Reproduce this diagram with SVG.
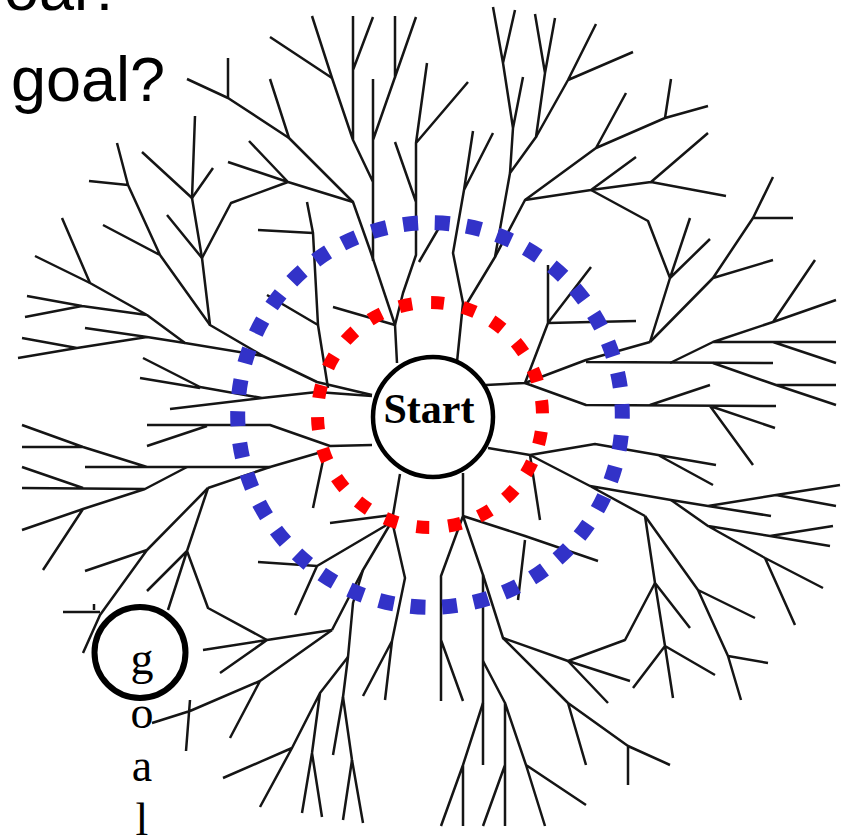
<svg xmlns="http://www.w3.org/2000/svg" width="846" height="837" viewBox="0 0 846 837">
<style>
.t{fill:none;stroke:#151515;stroke-width:2.5;stroke-linejoin:round;stroke-linecap:butt}
.ring{fill:none;stroke-linecap:butt}
.red{stroke:#ff0000;stroke-width:13;stroke-dasharray:13 19.13;stroke-dashoffset:15.46}
.blue{stroke:#3232c8;stroke-width:15;stroke-dasharray:15 16.795;stroke-dashoffset:11.43}
.node{fill:#fff;stroke:#000}
.ser{font-family:"Liberation Serif","Times New Roman",serif;fill:#000}
.sans{font-family:"Liberation Sans",Arial,sans-serif;fill:#000}
</style>
<rect width="846" height="837" fill="#fff"/>
<g id="tree" class="t">
<path d="M187,79 L228,98 L289,138 L353,202 L370,250 L395,325 L397,363"/>
<path d="M228,58 L228,98 M270,79 L289,138 M270,37 L332,78"/>
<path d="M312,16 L332,78 L353,140 L373,182 M353,16 L353,140 M373,17 L353,70 M373,79 L373,261 M395,16 L395,78 M416,17 L373,140"/>
<path d="M249,141 L288,182 M228,162 L288,182 L353,202 M288,182 L231,203 L202,258"/>
<path d="M195,116 L192,198 L202,258 L210,325 L263,356 L317,382 L372,395"/>
<path d="M142,152 L192,198 M213,168 L192,198 M167,215 L202,258"/>
<path d="M117,143 L128,185 L160,255 L210,325 M89,181 L128,185 M103,225 L160,255 M62,218 L90,283"/>
<path d="M35,256 L90,283 L147,315 L185,343 L263,356 M27,296 L82,306 L147,315 M25,317 L82,306"/>
<path d="M85,328 L147,337 L185,343 M22,338 L77,348 M18,358 L77,348 L147,337"/>
<path d="M307,202 L313,233 L318,325 L328,388 M258,230 L313,233 M267,295 L318,325 M333,307 L395,325"/>
<path d="M427,63 L416,143 L416,255 L403,293 L395,325 M468,82 L416,143 M395,142 L416,202 M440,226 L419,262"/>
<path d="M473,131 L464,190 L453,253 L463,303 L457,362 M493,133 L464,190"/>
<path d="M493,7 L503,63 L513,128 L510,173 L495,257 L466,305 M515,10 L503,63 M535,14 L545,73 L536,137 L510,173 M555,18 L545,73 M523,77 L513,128"/>
<path d="M596,24 L568,80 L536,137 M633,52 L568,80"/>
<path d="M708,106 L665,118 L596,148 L525,200 L495,257 M671,79 L665,118 M626,93 L596,148"/>
<path d="M525,200 L591,190 L651,182 L726,196 M636,157 L591,190 M708,133 L651,182"/>
<path d="M591,190 L648,221 L670,278 L650,342 M690,218 L670,278 M710,239 L670,278"/>
<path d="M773,177 L753,218 L713,278 L650,342 M753,218 L793,218 M713,278 L773,260"/>
<path d="M143,358 L200,387 L262,398 L317,392 L372,396 M140,378 L200,388 M170,409 L262,398"/>
<path d="M147,425 L270,425 L330,446 L372,445 M147,446 L207,426"/>
<path d="M22,425 L83,447 L147,467 M22,447 L83,447 M85,467 L270,467 L325,451"/>
<path d="M22,467 L83,488 M22,488 L145,489 L187,467 M22,530 L83,509 L145,489 M83,509 L43,570"/>
<path d="M208,488 L270,467 M208,488 L147,550 L100,615 L83,653 M147,550 L85,571"/>
<path d="M208,488 L187,551 L168,610 M187,551 L147,591 M187,551 L208,608 L267,640"/>
<path d="M63,612 L100,612 M94,604 L94,610"/>
<path d="M203,650 L267,640 L332,630 M220,673 L267,640"/>
<path d="M152,723 L190,711 L260,681 L332,630 M190,700 L186,751 M260,681 L230,738"/>
<path d="M332,630 L363,570 L392,521 L400,474 M330,523 L392,515 M313,508 L325,451"/>
<path d="M258,562 L317,566 L390,523 M317,566 L295,615"/>
<path d="M392,521 L405,578 L392,641 L385,700 M392,641 L363,696"/>
<path d="M363,570 L353,603 L348,657 L343,697 L352,760 L363,823"/>
<path d="M348,657 L320,693 L292,748 L260,807 M320,693 L312,753 L302,813 M312,753 L322,817 M292,748 L223,778 M343,697 L333,755 M352,760 L343,820"/>
<path d="M463,473 L463,516 L441,576 L441,701 M441,640 L463,701"/>
<path d="M463,516 L483,575 L483,765 M463,516 L525,536 L598,561 M525,540 L518,600"/>
<path d="M483,575 L503,638 L568,661 L630,681 M568,661 L625,640 L655,583"/>
<path d="M503,638 L568,703 L628,746 L670,765 M568,661 L608,703 M568,703 L586,765 M628,746 L628,785"/>
<path d="M483,661 L505,703 L505,826 M483,703 L463,765 L441,826 M463,765 L463,826 M505,765 L483,826 M505,703 L526,765 L545,826 M526,765 L586,805"/>
<path d="M488,448 L530,455 L595,444 L658,455 L716,465 M658,455 L713,485"/>
<path d="M530,455 L590,486 L645,516 M590,486 L671,500 L708,506 L771,516 M708,506 L776,495 L840,485 M776,495 L836,506"/>
<path d="M671,500 L708,526 L770,536 L833,526 M770,536 L830,546 M708,526 L765,558 L823,588 M765,558 L795,625"/>
<path d="M530,455 L540,520"/>
<path d="M645,516 L655,583 L665,646 L673,698 M655,583 L690,628 M665,646 L715,675 M665,646 L633,688"/>
<path d="M645,516 L698,590 L728,656 L741,700 M698,590 L755,618 M728,656 L768,663"/>
<path d="M486,385 L525,383 L548,323 L548,265 M548,323 L591,267 M548,323 L636,321"/>
<path d="M525,383 L586,360 L650,342 M586,362 L773,363"/>
<path d="M670,363 L713,342 L773,322 L836,300 M773,322 L815,260 M713,342 L836,342 M773,342 L836,363"/>
<path d="M713,363 L776,385 L836,405 M776,385 L836,385"/>
<path d="M525,383 L586,405 L776,406 M650,405 L710,385 M710,406 L753,465 M710,406 L775,428"/>
</g>
<g id="frontier-red"><circle class="ring red" cx="430" cy="415" r="112.5"/></g>
<g id="frontier-blue"><circle class="ring blue" cx="430" cy="415" r="192.3"/></g>
<g id="start">
<circle class="node" cx="433" cy="417" r="60" stroke-width="4.5"/>
<text class="ser" x="429" y="423" font-size="42" font-weight="bold" text-anchor="middle">Start</text>
</g>
<g id="goal">
<circle class="node" cx="140" cy="652.5" r="45.5" stroke-width="6"/>
<text class="ser" font-size="46" text-anchor="middle"><tspan x="142" y="674">g</tspan><tspan x="142" y="727.5">o</tspan><tspan x="142" y="781">a</tspan><tspan x="142" y="834.5">l</tspan></text>
</g>
<g id="title">
<text class="sans" x="4" y="9.5" font-size="63">oal?</text>
<text class="sans" x="11" y="101" font-size="63">goal?</text>
</g>
</svg>
